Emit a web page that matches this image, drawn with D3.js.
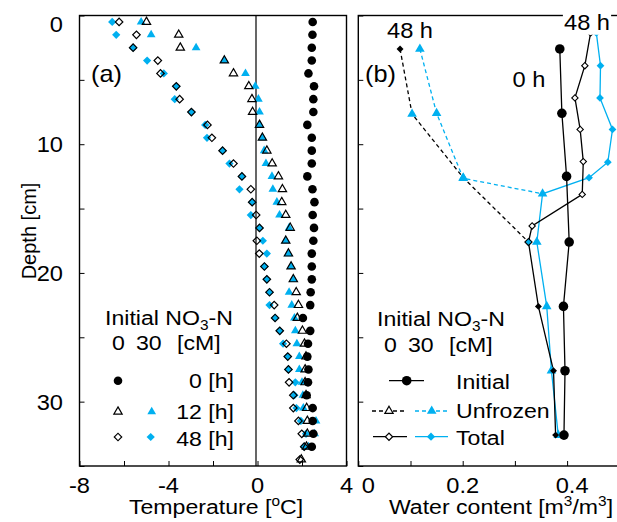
<!DOCTYPE html>
<html>
<head>
<meta charset="utf-8">
<script src="https://cdn.jsdelivr.net/npm/d3@7"></script>
<style>
body{margin:0;background:#fff;}
svg{font-family:"Liberation Sans", Arial, sans-serif; background:#fff;}
</style>
</head>
<body>
<script>
// ---- data : panel (a) temperature profiles, depth in cm ----
var depthA = [0.5,1.5,2.5,3.5,4.5,5.5,6.5,7.5,8.5,9.5,10.5,11.5,12.5,13.5,14.5,15.5,16.5,17.5,
              18.5,19.5,20.5,21.5,22.5,23.5,24.5,25.5,26.5,27.5,28.5,29.5,30.5,31.5,32.5,33.5,34.5];
var tInit   = [2.48,2.47,2.44,2.44,2.29,2.54,2.51,2.51,2.24,2.44,2.44,2.44,2.24,2.47,2.56,2.48,2.54,2.51,
               2.44,2.44,2.44,2.39,2.37,2.04,2.37,2.27,2.24,2.29,2.27,2.21,2.48,2.48,2.51,2.44];
var t12h0   = [-4.99,-3.54,-3.47,-1.49,-1.08,-0.39,-0.25,-0.22,0.09,0.22,0.42,0.66,0.94,1.12,1.09,1.27,1.47,1.27,
               1.39,1.51,1.61,1.74,1.84,1.79,2.02,2.11,2.18,2.14,2.14,2.18,2.21,2.24,2.24,2.20,1.97];
var t12h30  = [-5.23,-4.78,-2.76,-1.49,-0.54,-0.10,0.04,0.09,0.09,0.22,0.30,0.38,0.65,0.69,0.87,0.99,1.42,1.27,
               1.39,1.51,1.61,1.42,1.54,1.66,1.70,1.77,1.88,1.88,2.00,2.04,2.06,2.63,2.57,2.30];
var t48h0   = [-6.22,-5.44,-5.59,-4.48,-4.36,-3.65,-3.50,-2.97,-2.25,-2.05,-1.57,-1.08,-0.70,-0.30,-0.24,-0.06,0.09,-0.03,
               0.08,0.31,0.42,0.54,0.75,0.79,1.00,1.30,1.36,1.39,1.42,1.61,1.61,1.84,1.99,2.10,1.90];
var t48h30  = [-6.53,-6.35,-5.59,-4.96,-4.21,-3.65,-3.72,-2.97,-2.35,-2.27,-1.57,-1.26,-0.70,-0.81,-0.24,-0.30,0.09,0.24,
               0.42,0.31,0.42,0.54,0.54,0.79,1.00,1.15,1.36,1.39,1.70,1.66,1.75,1.95,2.18,2.09];

// ---- data : panel (b) water content ----
var depthInit = [2.6,7.6,12.5,17.6,22.6,27.6,32.6];
var wcInit    = [0.386,0.390,0.399,0.404,0.393,0.396,0.394];
var depthTot0 = [1.35,3.9,6.4,8.85,11.35,13.9,16.35,17.6,22.6,27.6,32.6];
var wcTot0    = [0.445,0.434,0.415,0.425,0.431,0.429,0.333,0.326,0.345,0.374,0.378];
var depthTot30 = [1.35,3.9,6.4,8.85,11.4,12.6,13.85,17.6,22.6,27.6,32.6];
var wcTot30    = [0.456,0.464,0.463,0.487,0.478,0.442,0.353,0.342,0.361,0.370,0.383];
var depthUnf0 = [2.6,7.65,12.6,17.6];
var wcUnf0    = [0.080,0.103,0.201,0.326];
var depthUnf30 = [2.6,7.6,12.65,13.85];
var wcUnf30    = [0.118,0.150,0.201,0.353];

var ticksA = [-8,-4,0,4];
var ticksB = [0,0.2,0.4];
var ticksY = [0,10,20,30];

var blue = "#00b0f0";
var svg = d3.select("body").append("svg").attr("width", 617).attr("height", 522);

var y  = d3.scaleLinear().domain([0, 35]).range([15.5, 466]);
var xa = d3.scaleLinear().domain([-8, 4]).range([79.5, 346.5]);
var xb = d3.scaleLinear().domain([0, 0.5]).range([358.3, 619.3]);

// text drawn slightly stretched like the original
function txt(x, yy, s, size, anchor) {
  var g = svg.append("g").attr("transform", "translate(" + x + "," + yy + ") scale(1.1,1)");
  var t = g.append("text").attr("font-size", size).attr("text-anchor", anchor || "start").attr("fill", "#000");
  if (s) t.text(s);
  return t;
}
function zip(ds, vs) { return vs.map(function(v, i) { return [v, ds[i]]; }); }

var sym = {
  circle: function(a) { return d3.symbol(d3.symbolCircle, a)(); },
  tri: function(a) { return d3.symbol(d3.symbolTriangle, a)(); },
  dia: function(a) { return d3.symbol(d3.symbolSquare, a)(); }
};
function marks(pts, xs, type, area, fill, stroke, sw) {
  svg.append("g").selectAll("path").data(pts).enter().append("path")
    .attr("d", sym[type](area))
    .attr("transform", function(d) {
      return "translate(" + xs(d[0]) + "," + y(d[1]) + ")" + (type == "dia" ? " rotate(45)" : "");
    })
    .attr("fill", fill).attr("stroke", stroke || "none").attr("stroke-width", sw || 1);
}
function line(pts, xs, color, dash) {
  svg.append("path").datum(pts)
    .attr("d", d3.line().x(function(d) { return xs(d[0]); }).y(function(d) { return y(d[1]); }))
    .attr("fill", "none").attr("stroke", color).attr("stroke-width", 1.3)
    .attr("stroke-dasharray", dash ? "4,3" : null);
}

// ---- panel (a) ----
svg.append("line").attr("x1", xa(0) - 1.5).attr("x2", xa(0) - 1.5).attr("y1", y(0)).attr("y2", y(35))
  .attr("stroke", "#000").attr("stroke-width", 1.2);

marks(zip(depthA, t12h30), xa, "tri", 33, blue);
marks(zip(depthA, t48h30), xa, "dia", 34, blue);
marks(zip(depthA, t12h0), xa, "tri", 30, "none", "#000", 1.2);
marks(zip(depthA, t48h0), xa, "dia", 28, "none", "#000", 1.2);
marks(zip(depthA, tInit), xa, "circle", 58, "#000");

svg.append("g").attr("transform", "translate(0,466)")
  .call(d3.axisBottom(xa).tickValues(d3.range(-8, 5, 2)).tickSize(-5).tickFormat(""))
  .call(function(g) { g.select(".domain").remove(); });
svg.append("g").attr("transform", "translate(79.5,0)")
  .call(d3.axisLeft(y).tickValues(d3.range(0, 36, 5)).tickSize(-5).tickFormat(""))
  .call(function(g) { g.select(".domain").remove(); });
svg.append("rect").attr("x", 79.5).attr("y", 15.5).attr("width", 267).attr("height", 450.5)
  .attr("fill", "none").attr("stroke", "#000").attr("stroke-width", 1.4);

// ---- panel (b) ----
line(zip(depthTot30, wcTot30), xb, blue);
line(zip(depthUnf30, wcUnf30), xb, blue, true);
line(zip(depthInit, wcInit), xb, "#000");
line(zip(depthTot0, wcTot0), xb, "#000");
line(zip(depthUnf0, wcUnf0), xb, "#000", true);

marks(zip(depthTot30, wcTot30).slice(0, 6), xb, "dia", 30, blue);
marks(zip(depthTot30, wcTot30).slice(6), xb, "tri", 40, blue);
marks(zip(depthUnf30, wcUnf30).slice(0, 3), xb, "tri", 40, blue);
marks(zip(depthTot0, wcTot0).slice(0, 7), xb, "dia", 20, "#fff", "#000", 1.1);
marks(zip(depthTot0, wcTot0).slice(8), xb, "dia", 24, "#000");
marks(zip(depthUnf0, wcUnf0).slice(0, 1), xb, "dia", 24, "#000");
marks(zip(depthUnf0, wcUnf0).slice(1, 3), xb, "tri", 40, blue);
marks(zip(depthUnf0, wcUnf0).slice(3), xb, "dia", 26, blue, "#000", 1.1);
marks(zip(depthInit, wcInit), xb, "circle", 72, "#000");

svg.append("g").attr("transform", "translate(0,466)")
  .call(d3.axisBottom(xb).tickValues(d3.range(0, 0.51, 0.1)).tickSize(-5).tickFormat(""))
  .call(function(g) { g.select(".domain").remove(); });
svg.append("g").attr("transform", "translate(358.3,0)")
  .call(d3.axisLeft(y).tickValues(d3.range(0, 36, 5)).tickSize(-5).tickFormat(""))
  .call(function(g) { g.select(".domain").remove(); });
svg.append("rect").attr("x", 358.3).attr("y", 15.5).attr("width", 261).attr("height", 450.5)
  .attr("fill", "none").attr("stroke", "#000").attr("stroke-width", 1.4);

// ---- tick labels ----
ticksA.forEach(function(v) { txt(xa(v), 493, String(v), 21.5, "middle"); });
ticksB.forEach(function(v, i) { txt(xb(v) + (i == 0 ? 10 : i == 2 ? 5 : 0), 493, String(v), 21.5, "middle"); });
ticksY.forEach(function(v) { txt(63, y(v) + (v == 0 ? 16 : 8), String(v), 21.5, "end"); });

// ---- axis titles ----
var t1 = txt(216, 514, "Temperature [", 21, "middle");
t1.append("tspan").attr("font-size", 14).attr("dy", -8).text("o");
t1.append("tspan").attr("dy", 8).text("C]");
var t2 = txt(501, 514, "Water content [m", 21, "middle");
t2.append("tspan").attr("font-size", 14).attr("dy", -8).text("3");
t2.append("tspan").attr("dy", 8).text("/m");
t2.append("tspan").attr("font-size", 14).attr("dy", -8).text("3");
t2.append("tspan").attr("dy", 8).text("]");
svg.append("text").attr("transform", "translate(36,231) rotate(-90)")
  .attr("font-size", 20).attr("text-anchor", "middle").text("Depth [cm]");

// ---- panel labels ----
txt(91, 82, "(a)", 23);
txt(365, 82, "(b)", 23);
txt(410, 38, "48 h", 21.5, "middle");
txt(529, 87, "0 h", 21.5, "middle");
var lab = txt(587, 30, "48 h", 21.5, "middle");
var bb = lab.node().getBBox();
d3.select(lab.node().parentNode).insert("rect", "text")
  .attr("x", bb.x - 1).attr("y", bb.y).attr("width", bb.width + 2).attr("height", bb.height).attr("fill", "#fff");

// ---- legend (a) ----
function noTitle(x, yy) {
  var t = txt(x, yy, "Initial NO", 21);
  t.append("tspan").attr("font-size", 14).attr("dy", 5).text("3");
  t.append("tspan").attr("dy", -5).text("-N");
}
noTitle(105, 325);
txt(112, 350, "0", 21); txt(136, 350, "30", 21); txt(177, 350, "[cM]", 21);
svg.append("path").attr("d", sym.circle(58)).attr("transform", "translate(118,380.7)").attr("fill", "#000");
svg.append("path").attr("d", sym.tri(30)).attr("transform", "translate(118,411.7)").attr("fill", "none").attr("stroke", "#000").attr("stroke-width", 1.2);
svg.append("path").attr("d", sym.tri(33)).attr("transform", "translate(151.7,411.7)").attr("fill", blue);
svg.append("path").attr("d", sym.dia(28)).attr("transform", "translate(118,437) rotate(45)").attr("fill", "none").attr("stroke", "#000").attr("stroke-width", 1.2);
svg.append("path").attr("d", sym.dia(34)).attr("transform", "translate(150.7,437) rotate(45)").attr("fill", blue);
txt(234, 388, "0 [h]", 21, "end");
txt(234, 419, "12 [h]", 21, "end");
txt(234, 446, "48 [h]", 21, "end");

// ---- legend (b) ----
noTitle(377, 326);
txt(384, 352, "0", 21); txt(408, 352, "30", 21); txt(449, 352, "[cM]", 21);
function legLine(x1, x2, yy, color, dash) {
  svg.append("line").attr("x1", x1).attr("x2", x2).attr("y1", yy).attr("y2", yy)
    .attr("stroke", color).attr("stroke-width", 1.3).attr("stroke-dasharray", dash ? "4,3" : null);
}
legLine(389, 424, 380.7, "#000");
svg.append("path").attr("d", sym.circle(72)).attr("transform", "translate(406.7,380.7)").attr("fill", "#000");
legLine(372, 407, 411, "#000", true);
legLine(415, 448, 411, blue, true);
svg.append("path").attr("d", sym.tri(30)).attr("transform", "translate(389,411)").attr("fill", "#fff").attr("stroke", "#000").attr("stroke-width", 1.2);
svg.append("path").attr("d", sym.tri(40)).attr("transform", "translate(431.7,411)").attr("fill", blue);
legLine(373, 407, 436.7, "#000");
legLine(415, 448, 436.7, blue);
svg.append("path").attr("d", sym.dia(26)).attr("transform", "translate(389,436.7) rotate(45)").attr("fill", "#fff").attr("stroke", "#000").attr("stroke-width", 1.2);
svg.append("path").attr("d", sym.dia(34)).attr("transform", "translate(431,436.7) rotate(45)").attr("fill", blue);
txt(456, 389, "Initial", 21);
txt(456, 418, "Unfrozen", 21);
txt(456, 445, "Total", 21);
</script>
</body>
</html>
